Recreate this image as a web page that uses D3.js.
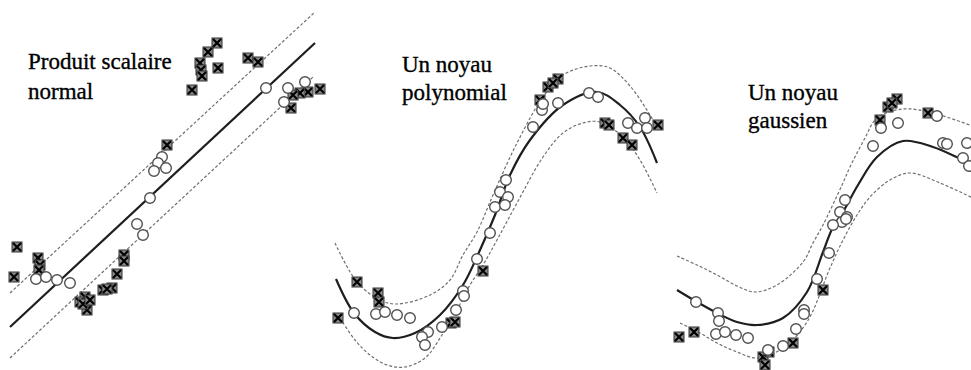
<!DOCTYPE html>
<html>
<head>
<meta charset="utf-8">
<script src="https://cdn.jsdelivr.net/npm/d3@7"></script>
<style>
  body { margin: 0; background: #fff; }
  svg { display: block; }
  .title { font-family: "Liberation Serif", "Times New Roman", serif; font-size: 23px; fill: #000; stroke: #000; stroke-width: 0.35px; }
</style>
</head>
<body>
<div id="chart"></div>
<script>
// Data, in local panel units (x right, y down)

// Panel 1: linear (produit scalaire)
var linTitle = ["Produit scalaire", "normal"];
var linSolid = [[10, 327], [315, 43]];
var linUpper = [[10, 293], [315, 12]];
var linLower = [[10, 358], [313, 77]];
var linCircles = [[266, 88], [288, 88], [305, 82], [284, 102], [162, 157], [158, 163], [154, 171], [166, 168],
  [150, 198], [137, 224], [143, 235], [36, 279], [46, 277], [57, 280], [70, 283]];
var linCrosses = [[217, 43], [208, 52], [200, 63], [201, 70], [202, 76], [218, 68], [192, 90], [248, 58], [258, 62],
  [320, 89], [308, 92], [300, 93], [293, 95], [291, 108], [167, 145], [17, 247], [14, 277], [38, 258], [40, 265],
  [39, 270], [124, 255], [124, 261], [117, 274], [103, 290], [112, 288], [107, 289], [85, 297], [80, 302],
  [87, 310], [83, 304], [90, 300]];

// Panel 2: noyau polynomial
var polyTitle = ["Un noyau", "polynomial"];
var polySolid = [[6, 279], [24, 313], [45, 332], [63, 338], [85, 333], [110, 315], [133, 285], [150, 250], [165, 215],
  [180, 175], [200, 140], [233, 105], [267, 92], [290, 105], [310, 127], [327, 163]];
var polyUpper = [[5, 243], [27, 282], [50, 300], [67, 304], [100, 295], [120, 280], [133, 255], [147, 232], [163, 195],
  [187, 143], [213, 97], [233, 75], [260, 66], [280, 68], [300, 86], [320, 115], [328, 130]];
var polyLower = [[10, 318], [25, 340], [40, 355], [57, 365], [75, 367], [95, 358], [112, 335], [128, 308], [140, 285],
  [153, 265], [167, 240], [187, 203], [213, 157], [233, 133], [253, 123], [270, 122], [293, 137], [310, 160], [327, 193]];
var polyCircles = [[212, 110], [213, 104], [228, 103], [203, 127], [259, 93], [268, 97], [298, 123], [307, 128],
  [315, 118], [317, 128], [176, 180], [170, 192], [178, 197], [165, 207], [175, 205], [160, 233], [147, 259],
  [133, 291], [134, 296], [126, 310], [112, 327], [98, 332], [92, 337], [95, 345], [24, 313], [46, 314], [55, 312],
  [67, 315], [80, 318]];
var polyCrosses = [[210, 100], [218, 87], [228, 79], [223, 83], [275, 123], [279, 125], [293, 138], [302, 145],
  [328, 125], [27, 282], [48, 293], [49, 302], [8, 318], [121, 323], [125, 322], [153, 271]];

// Panel 3: noyau gaussien
var gaussTitle = ["Un noyau", "gaussien"];
var gaussSolid = [[27, 290], [47, 302], [67, 313], [87, 322], [107, 325], [133, 318], [157, 292], [173, 252], [183, 227],
  [193, 212], [208, 185], [227, 157], [253, 141], [283, 147], [313, 160], [325, 165]];
var gaussUpper = [[27, 256], [47, 265], [67, 275], [87, 286], [105, 292], [127, 285], [153, 262], [163, 243], [173, 225],
  [192, 185], [200, 167], [215, 138], [227, 118], [253, 109], [283, 113], [325, 127]];
var gaussLower = [[30, 323], [50, 333], [67, 343], [87, 352], [107, 358], [133, 348], [157, 322], [180, 268], [193, 240],
  [207, 215], [220, 197], [240, 180], [260, 173], [290, 183], [325, 199]];
var gaussCircles = [[231, 128], [248, 123], [287, 116], [223, 146], [293, 143], [297, 144], [317, 143], [313, 158],
  [319, 166], [195, 200], [190, 212], [197, 217], [192, 222], [183, 225], [46, 302], [68, 313], [69, 321], [66, 334],
  [75, 332], [86, 335], [98, 338], [118, 350], [133, 346], [146, 329], [154, 310], [154, 314], [167, 279],
  [179, 253], [196, 219]];
var gaussCrosses = [[230, 120], [238, 107], [247, 99], [242, 103], [278, 113], [29, 337], [44, 332], [113, 357],
  [115, 365], [119, 352], [143, 343], [173, 290]];

var width = 971, height = 370;

var svg = d3.select("#chart").append("svg")
  .attr("width", width)
  .attr("height", height);

// One panel of the figure
class KernelPanel {

  constructor(_svg, _opts) {
    this.svg = _svg;
    this.opts = _opts;
    this.initPanel();
  }

  initPanel() {
    var vis = this;
    var o = vis.opts;

    vis.x = d3.scaleLinear().domain([0, 330]).range([o.left, o.left + 330]);
    vis.y = d3.scaleLinear().domain([0, 370]).range([0, 370]);

    vis.g = vis.svg.append("g").attr("class", "panel");

    vis.line = d3.line()
      .x(d => vis.x(d[0]))
      .y(d => vis.y(d[1]))
      .curve(o.curved ? d3.curveCatmullRom.alpha(0.5) : d3.curveLinear);

    // margins (dashed)
    [o.upper, o.lower].forEach(function (pts) {
      vis.g.append("path")
        .attr("d", vis.line(pts))
        .attr("fill", "none")
        .attr("stroke", "#707070")
        .attr("stroke-width", 1.2)
        .attr("stroke-dasharray", "3,2");
    });

    // regression function
    vis.g.append("path")
      .attr("d", vis.line(o.solid))
      .attr("fill", "none")
      .attr("stroke", "#1e1e1e")
      .attr("stroke-width", 2.2);

    // crossed squares
    var cr = vis.g.selectAll(".cross")
      .data(o.crosses)
      .enter().append("g")
      .attr("class", "cross")
      .attr("transform", d => "translate(" + vis.x(d[0]) + "," + vis.y(d[1]) + ")");

    cr.append("rect")
      .attr("x", -5).attr("y", -5)
      .attr("width", 10).attr("height", 10)
      .attr("fill", "#8a8a8a")
      .attr("stroke", "#333")
      .attr("stroke-width", 1);

    cr.append("path")
      .attr("d", "M-4,-4L4,4M4,-4L-4,4")
      .attr("stroke", "#000")
      .attr("stroke-width", 2.2);

    // circles
    vis.g.selectAll(".pt")
      .data(o.circles)
      .enter().append("circle")
      .attr("class", "pt")
      .attr("cx", d => vis.x(d[0]))
      .attr("cy", d => vis.y(d[1]))
      .attr("r", 5.3)
      .attr("fill", "#fff")
      .attr("stroke", "#505050")
      .attr("stroke-width", 1.4);

    // title
    var t = vis.g.append("text")
      .attr("class", "title")
      .attr("x", o.textX)
      .attr("y", o.textY);

    o.title.forEach(function (s, i) {
      t.append("tspan")
        .attr("x", o.textX)
        .attr("y", o.textY + i * o.lineGap)
        .text(s);
    });
  }
}

new KernelPanel(svg, {left: 0, curved: false, solid: linSolid, upper: linUpper, lower: linLower,
  circles: linCircles, crosses: linCrosses, title: linTitle, textX: 28, textY: 69, lineGap: 30});

new KernelPanel(svg, {left: 330, curved: true, solid: polySolid, upper: polyUpper, lower: polyLower,
  circles: polyCircles, crosses: polyCrosses, title: polyTitle, textX: 402, textY: 72, lineGap: 28});

new KernelPanel(svg, {left: 650, curved: true, solid: gaussSolid, upper: gaussUpper, lower: gaussLower,
  circles: gaussCircles, crosses: gaussCrosses, title: gaussTitle, textX: 748, textY: 100, lineGap: 28});
</script>
</body>
</html>
